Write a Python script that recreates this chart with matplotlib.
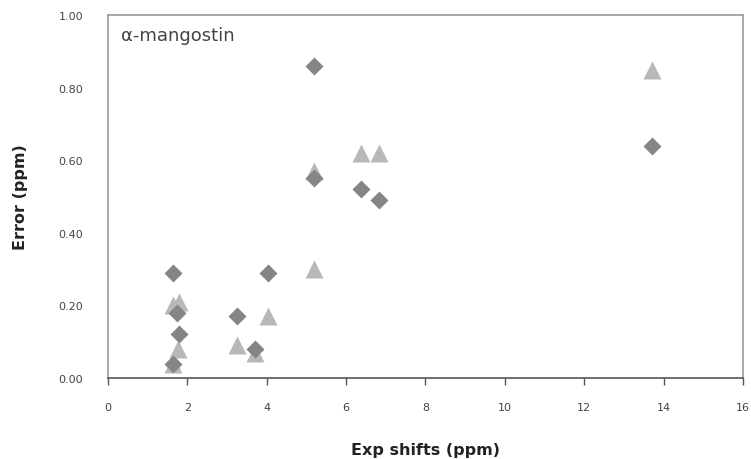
import numpy as np
import matplotlib.pyplot as plt

# experimental shifts (ppm) and errors (ppm)
tri_x = [1.64, 1.80, 1.77, 1.64, 3.24, 3.71, 4.04, 5.18, 5.18, 6.37, 6.82, 13.72]
tri_y = [0.20, 0.21, 0.08, 0.04, 0.09, 0.07, 0.17, 0.30, 0.57, 0.62, 0.62, 0.85]

dia_x = [1.64, 1.75, 1.79, 1.64, 3.24, 3.71, 4.04, 5.18, 5.18, 6.37, 6.82, 13.72]
dia_y = [0.29, 0.18, 0.12, 0.04, 0.17, 0.08, 0.29, 0.86, 0.55, 0.52, 0.49, 0.64]

fig = plt.figure(figsize=(7.51, 4.60), dpi=100)
ax = fig.add_axes([0.1438, 0.176, 0.8455, 0.789])

ax.plot(tri_x, tri_y, '^', color='#b8b8b8', ms=12.5, mec='none')
ax.plot(dia_x, dia_y, 'D', color='#858585', ms=9.5, mec='none')

ax.set_xlim(0, 16)
ax.set_ylim(0, 1.0)
ax.set_xticks(np.arange(0, 17, 2))
ax.set_yticks(np.arange(0, 1.01, 0.2))
ax.set_yticklabels(["%.2f" % v for v in np.arange(0, 1.01, 0.2)])

for s in ['left', 'top', 'right']:
    ax.spines[s].set_color('#9a9a9a')
    ax.spines[s].set_linewidth(1.2)
ax.spines['bottom'].set_color('#555555')
ax.spines['bottom'].set_linewidth(1.2)

ax.tick_params(axis='x', direction='out', length=5, width=1, color='#555555',
               labelsize=8, labelcolor='#444444', pad=12)
ax.tick_params(axis='y', length=0, labelsize=8, labelcolor='#444444', pad=18)

ax.set_xlabel("Exp shifts (ppm)", fontsize=11.5, fontweight='bold', color='#222222', labelpad=22)
ax.set_ylabel("Error (ppm)", fontsize=11.5, fontweight='bold', color='#222222', labelpad=22)

ax.text(0.33, 0.945, "\u03b1-mangostin", fontsize=13, color='#444444',
        transform=ax.transData, va='center', ha='left')

plt.savefig('out.png')
plt.close()
